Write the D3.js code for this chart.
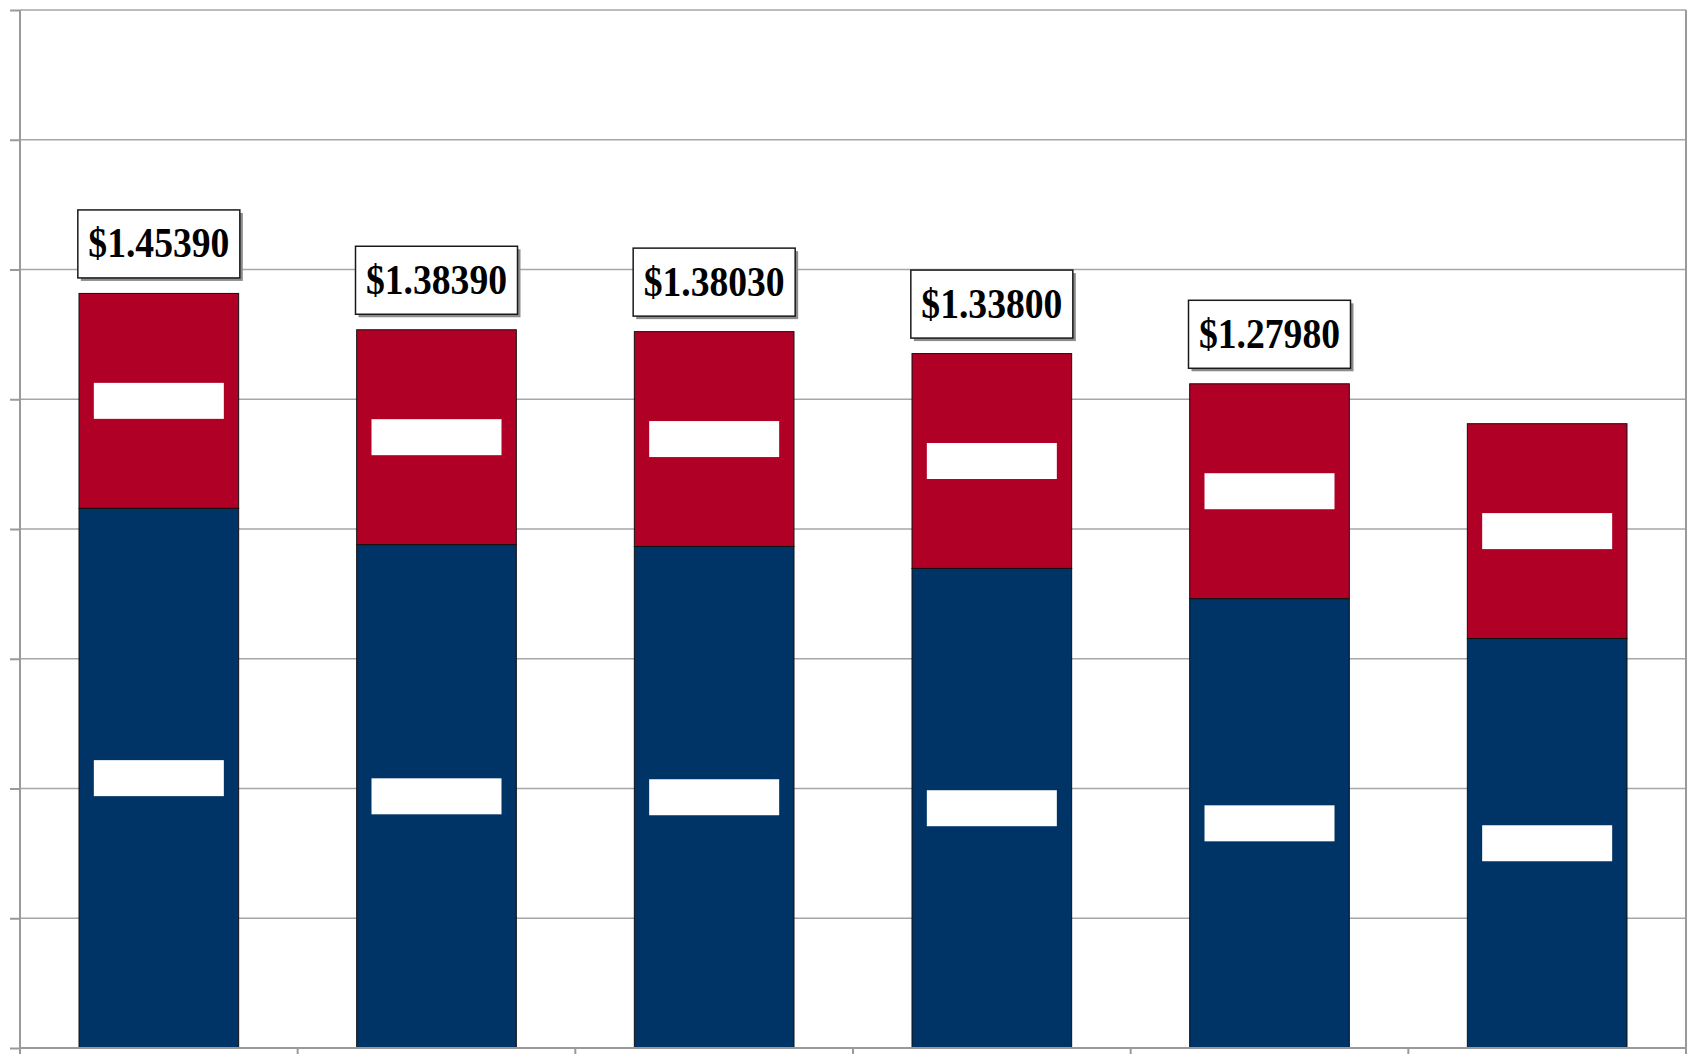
<!DOCTYPE html>
<html>
<head>
<meta charset="utf-8">
<script src="https://cdn.jsdelivr.net/npm/d3@7"></script>
<style>
  html, body { margin: 0; padding: 0; background: #ffffff; }
  svg { display: block; }
</style>
</head>
<body>
<svg id="chart" width="1691" height="1054"></svg>
<script>
// ---- data ----
const categories = ["A", "B", "C", "D", "E", "F"];
const blueValues = [1.0399, 0.9699, 0.9663, 0.9240, 0.8658, 0.7890];
const redValues  = [0.4140, 0.4140, 0.4140, 0.4140, 0.4140, 0.4139];
const totalLabels = ["$1.45390", "$1.38390", "$1.38030", "$1.33800", "$1.27980", null];
const yTicks = [0, 0.25, 0.5, 0.75, 1.0, 1.25, 1.5, 1.75, 2.0];

// ---- layout ----
const W = 1691, H = 1054;
const margin = { top: 10, right: 5, bottom: 6, left: 20 };
const svg = d3.select("#chart");
const x0 = margin.left, x1 = W - margin.right;
const yTop = margin.top, yBot = H - margin.bottom;

const x = d3.scaleBand().domain(categories).range([x0, x1])
  .paddingInner(0.425).paddingOuter(0.2125);
const xCat = d3.scaleBand().domain(categories).range([x0, x1]).padding(0);
const y = d3.scaleLinear().domain([0, 2]).range([yBot, yTop]);

const gridColor = "#a6a6a6";
const axisColor = "#9a9a9a";

// gridlines
svg.append("g").selectAll("line").data(yTicks.slice(1)).join("line")
  .attr("x1", x0).attr("x2", x1)
  .attr("y1", d => y(d)).attr("y2", d => y(d))
  .attr("stroke", gridColor).attr("stroke-width", 1.5);

// right border
svg.append("line").attr("x1", x1).attr("x2", x1).attr("y1", yTop).attr("y2", yBot)
  .attr("stroke", axisColor).attr("stroke-width", 2);

// y axis
const yAxis = d3.axisLeft(y).tickValues(yTicks).tickFormat("").tickSize(10).tickSizeOuter(0);
const gy = svg.append("g").attr("transform", `translate(${x0},0)`).call(yAxis);
gy.select(".domain").remove();
gy.selectAll(".tick line").attr("stroke", axisColor).attr("stroke-width", 2);
svg.append("line").attr("x1", x0).attr("x2", x0).attr("y1", yTop).attr("y2", H)
  .attr("stroke", axisColor).attr("stroke-width", 2);

// bars
const series = categories.map((c, i) => ({ c, blue: blueValues[i], red: redValues[i], label: totalLabels[i] }));
const gBars = svg.append("g");
gBars.selectAll("rect.blue").data(series).join("rect").attr("class", "blue")
  .attr("x", d => x(d.c)).attr("width", x.bandwidth())
  .attr("y", d => y(d.blue)).attr("height", d => y(0) - y(d.blue))
  .attr("fill", "#003366").attr("stroke", "#111").attr("stroke-width", 1);
gBars.selectAll("rect.red").data(series).join("rect").attr("class", "red")
  .attr("x", d => x(d.c)).attr("width", x.bandwidth())
  .attr("y", d => y(d.blue + d.red)).attr("height", d => y(d.blue) - y(d.blue + d.red))
  .attr("fill", "#b00026").attr("stroke", "#111").attr("stroke-width", 1);

// white label blocks inside segments
const lw = 130, lh = 36;
gBars.selectAll("rect.lb").data(series).join("rect").attr("class", "lb")
  .attr("x", d => x(d.c) + x.bandwidth() / 2 - lw / 2).attr("width", lw)
  .attr("y", d => y(d.blue / 2) - lh / 2).attr("height", lh).attr("fill", "#ffffff");
gBars.selectAll("rect.lr").data(series).join("rect").attr("class", "lr")
  .attr("x", d => x(d.c) + x.bandwidth() / 2 - lw / 2).attr("width", lw)
  .attr("y", d => y(d.blue + d.red / 2) - lh / 2).attr("height", lh).attr("fill", "#ffffff");

// x axis
svg.append("line").attr("x1", x0).attr("x2", x1).attr("y1", yBot).attr("y2", yBot)
  .attr("stroke", axisColor).attr("stroke-width", 2);
const bounds = categories.map(c => xCat(c)).concat([x1]);
svg.append("g").selectAll("line").data(bounds).join("line")
  .attr("x1", d => d).attr("x2", d => d).attr("y1", yBot).attr("y2", H)
  .attr("stroke", axisColor).attr("stroke-width", 2);

// total labels
const bw = 162, bh = 68;
const gl = svg.append("g").selectAll("g").data(series.filter(d => d.label)).join("g")
  .attr("transform", d => `translate(${x(d.c) + x.bandwidth() / 2 - bw / 2},${y(d.blue + d.red) - 15.5 - bh})`);
gl.append("rect").attr("x", 3).attr("y", 3).attr("width", bw).attr("height", bh).attr("fill", "#8c8c8c");
gl.append("rect").attr("width", bw).attr("height", bh).attr("fill", "#ffffff")
  .attr("stroke", "#1a1a1a").attr("stroke-width", 1.5);
gl.append("text").attr("x", bw / 2).attr("y", 47.5).attr("text-anchor", "middle")
  .attr("font-family", "'Liberation Serif', 'DejaVu Serif', serif").attr("font-weight", "bold")
  .attr("font-size", 42).attr("fill", "#000")
  .attr("textLength", 141).attr("lengthAdjust", "spacingAndGlyphs")
  .text(d => d.label);
</script>
</body>
</html>
